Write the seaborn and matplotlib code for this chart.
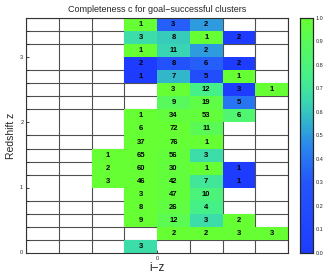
import numpy as np
import pandas as pd
import seaborn as sns
import matplotlib
matplotlib.use('Agg')
from matplotlib import pyplot as plt
from matplotlib.colors import LinearSegmentedColormap

# bin edges
iz_edges = [-0.8, -0.6, -0.4, -0.2, 0.0, 0.2, 0.4, 0.6, 0.8]
z_edges = [round(0.2 * k, 1) for k in range(19)]

N = None
# number of clusters per cell, rows from low z (bottom) to high z (top)
counts = [
    [N, N, N, 3, N, N, N, N],
    [N, N, N, N, 2, 2, 3, 3],
    [N, N, N, 9, 12, 3, 2, N],
    [N, N, N, 8, 26, 4, N, N],
    [N, N, N, 3, 47, 10, N, N],
    [N, N, 3, 46, 42, 7, 1, N],
    [N, N, 2, 60, 30, 1, 1, N],
    [N, N, 1, 65, 56, 3, N, N],
    [N, N, N, 37, 76, 1, N, N],
    [N, N, N, 6, 72, 11, N, N],
    [N, N, N, 1, 34, 53, 6, N],
    [N, N, N, N, 9, 19, 5, N],
    [N, N, N, N, 3, 12, 3, 1],
    [N, N, N, 1, 7, 5, 1, N],
    [N, N, N, 2, 8, 6, 2, N],
    [N, N, N, 1, 11, 2, N, N],
    [N, N, N, 3, 8, 1, 2, N],
    [N, N, N, 1, 3, 2, N, N],
]
completeness = [
    [N, N, N, 0.67, N, N, N, N],
    [N, N, N, N, 1.0, 1.0, 1.0, 1.0],
    [N, N, N, 1.0, 0.92, 0.67, 1.0, N],
    [N, N, N, 1.0, 0.96, 0.75, N, N],
    [N, N, N, 1.0, 0.98, 0.8, N, N],
    [N, N, 1.0, 1.0, 0.98, 0.71, 0.0, N],
    [N, N, 1.0, 1.0, 0.97, 1.0, 0.0, N],
    [N, N, 1.0, 1.0, 0.98, 0.67, N, N],
    [N, N, N, 1.0, 0.99, 1.0, N, N],
    [N, N, N, 1.0, 1.0, 0.91, N, N],
    [N, N, N, 1.0, 0.97, 0.98, 0.83, N],
    [N, N, N, N, 0.89, 0.95, 0.4, N],
    [N, N, N, N, 1.0, 0.75, 0.0, 1.0],
    [N, N, N, 0.0, 0.57, 0.2, 1.0, N],
    [N, N, N, 0.0, 0.25, 0.33, 0.0, N],
    [N, N, N, 1.0, 0.64, 0.5, N, N],
    [N, N, N, 0.67, 0.62, 1.0, 0.0, N],
    [N, N, N, 1.0, 0.33, 0.5, N, N],
]
z_ticks = [0, 1, 2, 3]
iz_ticks = [0]
cb_ticks = [round(0.1 * k, 1) for k in range(11)]

comp = pd.DataFrame(completeness, dtype=float)
annot = np.array([['' if c is None else str(c) for c in row] for row in counts])

cmap = LinearSegmentedColormap.from_list('cgreen', [
    (0.0, '#1e3cff'), (0.3, '#2455fc'), (0.45, '#2a85ee'), (0.55, '#30b0d0'),
    (0.65, '#3ad8b0'), (0.75, '#46f08a'), (0.9, '#58fa5a'), (1.0, '#66ff33')])

sns.set_style('white')
plt.rcParams['font.family'] = ['Liberation Sans', 'DejaVu Sans']

fig = plt.figure(figsize=(3.27, 2.79), dpi=100)
ax = fig.add_axes([0.0795, 0.0932, 0.8015, 0.8423])
cax = fig.add_axes([0.917, 0.0932, 0.04, 0.8423])

sns.heatmap(comp, annot=annot, fmt='', cmap=cmap, vmin=0, vmax=1,
            ax=ax, cbar_ax=cax,
            annot_kws={'color': 'k', 'fontsize': 5.5, 'fontweight': 'bold'},
            cbar_kws={'ticks': cb_ticks})
ax.invert_yaxis()

dz = z_edges[1] - z_edges[0]
dx = iz_edges[1] - iz_edges[0]
ax.set_yticks([(z - z_edges[0]) / dz for z in z_ticks])
ax.set_yticklabels([str(z) for z in z_ticks], rotation=0)
ax.set_yticks(range(len(z_edges)), minor=True)
ax.set_xticks([(x - iz_edges[0]) / dx for x in iz_ticks])
ax.set_xticklabels([str(x) for x in iz_ticks])
ax.set_xticks(range(len(iz_edges)), minor=True)
ax.grid(which='minor', color='#505050', linewidth=0.8)
ax.tick_params(which='both', direction='in', labelsize=4, pad=2,
               left=True, bottom=True, length=2.5, width=0.6)
ax.tick_params(axis='x', which='minor', length=0)
for s in ax.spines.values():
    s.set_visible(True)
    s.set_color('#333333')
    s.set_linewidth(0.8)

ax.set_title('Completeness c for goal\u2212successful clusters', fontsize=6.5, pad=4)
ax.set_xlabel('i\u2212z', fontsize=8.5, labelpad=1)
ax.set_ylabel('Redshift z', fontsize=7.5, labelpad=3)

cax.tick_params(direction='in', labelsize=4, length=2, width=0.5, pad=2)
for s in cax.spines.values():
    s.set_visible(True)
    s.set_linewidth(0.8)

fig.savefig('out.png', dpi=100)
